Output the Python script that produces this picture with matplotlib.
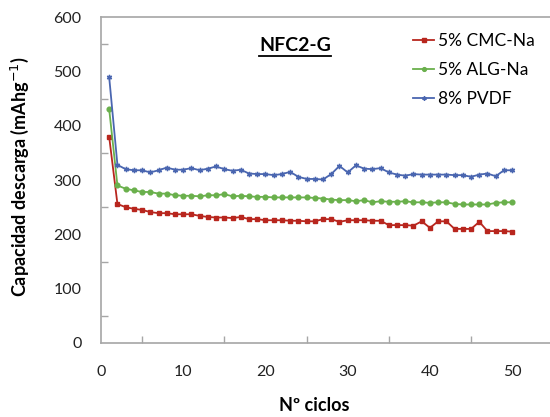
import numpy as np
import matplotlib
matplotlib.use('Agg')
import matplotlib.pyplot as plt
from matplotlib.lines import Line2D

plt.rcParams['font.family'] = ['Lato', 'DejaVu Sans']

# Ciclos y capacidad de descarga (mAh/g)
ciclos = np.arange(1, 51)

cmc_na = [379, 256, 250, 247, 245, 241, 239, 239, 237, 237,
          237, 234, 232, 231, 231, 230, 232, 228, 228, 226,
          226, 226, 225, 225, 224, 224, 228, 228, 223, 226,
          226, 226, 225, 225, 217, 217, 217, 216, 224, 212,
          224, 224, 210, 210, 210, 223, 206, 206, 206, 205]

alg_na = [430, 290, 284, 281, 278, 278, 275, 275, 272, 271,
          271, 270, 272, 272, 274, 270, 271, 270, 269, 269,
          268, 268, 268, 268, 268, 267, 266, 264, 263, 263,
          261, 263, 259, 261, 260, 260, 261, 259, 259, 258,
          259, 259, 256, 255, 255, 255, 255, 258, 259, 259]

pvdf = [489, 328, 320, 318, 318, 314, 318, 323, 319, 319,
        322, 318, 321, 325, 320, 317, 319, 312, 311, 311,
        309, 311, 315, 306, 302, 302, 301, 311, 326, 314,
        327, 321, 320, 322, 314, 310, 308, 311, 310, 310,
        310, 310, 309, 309, 306, 310, 312, 307, 318, 318]

series = [
    ('5% CMC-Na', cmc_na, '#B8261E', 's', 3.2),
    ('5% ALG-Na', alg_na, '#6AB04C', 'o', 3.4),
    ('8% PVDF', pvdf, '#4A66B0', (6, 2, 0), 3.8),
]

fig = plt.figure(figsize=(5.5, 4.17), dpi=100)
ax = fig.add_axes([0.1836, 0.1775, 0.8164, 0.7815])

for nombre, valores, color, marker, ms in series:
    ax.plot(ciclos, valores, color=color, marker=marker, markersize=ms,
            markeredgewidth=1.0, linewidth=1.3, label=nombre)

ax.set_xlim(0, 54.6)
ax.set_ylim(0, 600)
ax.set_xticks(np.arange(0, 51, 10))
ax.set_xticks(np.arange(0, 51, 5), minor=True)
ax.set_yticks(np.arange(0, 601, 100))
ax.set_yticks(np.arange(0, 601, 50), minor=True)

for s in ['left', 'bottom', 'top']:
    ax.spines[s].set_color('#A6A6A6')
    ax.spines[s].set_linewidth(1.2)
ax.spines['right'].set_visible(False)

ax.tick_params(which='both', direction='in', color='#A6A6A6', width=1,
               labelsize=11.5, labelcolor='#222222')
ax.tick_params(which='major', length=0)
ax.tick_params(which='minor', length=5)
ax.tick_params(axis='x', pad=16)
ax.tick_params(axis='y', pad=14)

ax.set_xlabel('Nº ciclos', fontsize=13, fontweight='bold', va='center')
ax.xaxis.set_label_coords(0.475, -0.193)
ax.set_ylabel('Capacidad descarga (mAhg$^{-1}$)', fontsize=13,
              fontweight='bold', va='center')
ax.yaxis.set_label_coords(-0.18, 0.51)

titulo = ax.text(23.6, 548, 'NFC2-G', fontsize=14, fontweight='bold',
                 ha='center', va='center')
fig.canvas.draw()
bb = titulo.get_window_extent().transformed(fig.transFigure.inverted())
fig.add_artist(Line2D([bb.x0, bb.x1], [bb.y0 - 0.004, bb.y0 - 0.004],
                      color='black', linewidth=1.3))

leg = ax.legend(loc='upper right', bbox_to_anchor=(1.0, 1.0), frameon=False,
                fontsize=12.5, handlelength=1.2, handletextpad=0.2,
                labelspacing=0.75, borderaxespad=0.5, markerscale=0.8)

fig.savefig('out.png', dpi=100)
